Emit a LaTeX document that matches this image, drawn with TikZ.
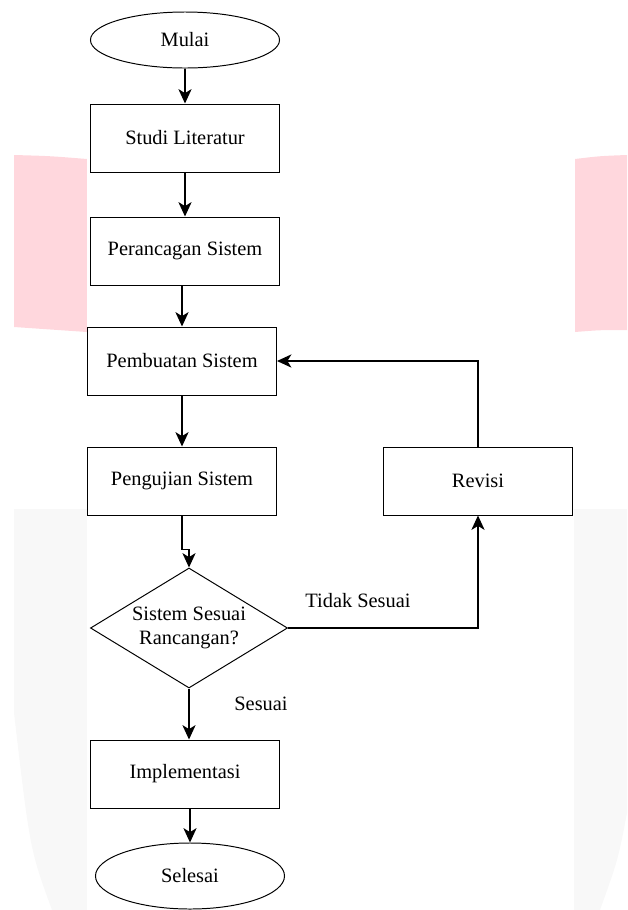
\documentclass[tikz,border=0pt]{standalone}
\usepackage{fontspec}
\setmainfont{Liberation Serif}
\usetikzlibrary{arrows.meta,shapes.geometric}
\definecolor{wmpink}{RGB}{255,215,221}
\definecolor{wmgrey}{RGB}{248,248,248}
\tikzset{
	proc/.style={draw, line width=0.7pt, minimum width=4.725cm, minimum height=1.7cm, inner sep=2pt},
	term/.style={draw, ellipse, line width=0.7pt, minimum width=4.725cm, minimum height=1.4cm, inner sep=0pt},
	cek/.style={draw, diamond, aspect=1.64, line width=0.7pt, minimum width=4.925cm, minimum height=3cm, inner sep=0pt, align=center},
	lbl/.style={inner sep=1pt},
	arr/.style={line width=0.9pt, -{Stealth[length=3.6mm, width=3.3mm, inset=1mm]}}
}
\begin{document}
\begin{tikzpicture}[x=0.025cm, y=-0.025cm, font=\fontsize{14.5}{17}\selectfont]
			%%%%% START %%%%%
			\useasboundingbox (0, 0) rectangle (627, 910);
			
			% watermark behind the chart
			\fill[wmgrey] (14, 509) -- (627, 509) -- (627, 813) .. controls (618, 860) .. (600, 910) -- (52, 910) .. controls (30, 850) .. (14, 713) -- cycle;
			\fill[wmpink] (14, 155) .. controls (50, 156) .. (87, 159) -- (87, 332) .. controls (50, 330) .. (14, 327) -- cycle;
			\fill[wmpink] (575, 159) .. controls (600, 156) .. (627, 155) -- (627, 330) .. controls (600, 330) .. (575, 332) -- cycle;
			\fill[white] (87, 0) rectangle (574, 910);
			
			% flow
			\node[term] (mulai) at (185, 40) {Mulai};
			\node[proc] (studi) at (185, 138) {Studi Literatur};
			\node[proc] (rancang) at (185, 251) {Perancagan Sistem};
			\node[proc] (buat) at (182, 361) {Pembuatan Sistem};
			\node[proc] (uji) at (182, 481) {Pengujian Sistem};
			\node[proc] (revisi) at (478, 481) {Revisi};
			\node[cek] (cek) at (189, 628) {Sistem Sesuai\\Rancangan?};
			\node[proc] (impl) at (185, 774) {Implementasi};
			\node[term, minimum height=1.65cm] (selesai) at (190, 876) {Selesai};
			
			\node[lbl] (tidak) at (358, 601) {Tidak Sesuai};
			\node[lbl] (sesuai) at (261, 704) {Sesuai};
			
			\draw[arr] (mulai) -- (studi);
			\draw[arr] (studi) -- (rancang);
			\draw[arr] (rancang.south -| buat.north) -- (buat.north);
			\draw[arr] (buat) -- (uji);
			\draw[arr] (uji.south) -- ++(0, 34) -| (cek.north);
			\draw[arr] (cek.south) -- (cek.south |- impl.north);
			\draw[arr] (cek.east) -| (revisi.south);
			\draw[arr] (revisi.north) |- (buat.east);
			\draw[arr] (impl.south -| selesai.north) -- (selesai.north);
			
			%%%%% END %%%%%
\end{tikzpicture}
\end{document}
